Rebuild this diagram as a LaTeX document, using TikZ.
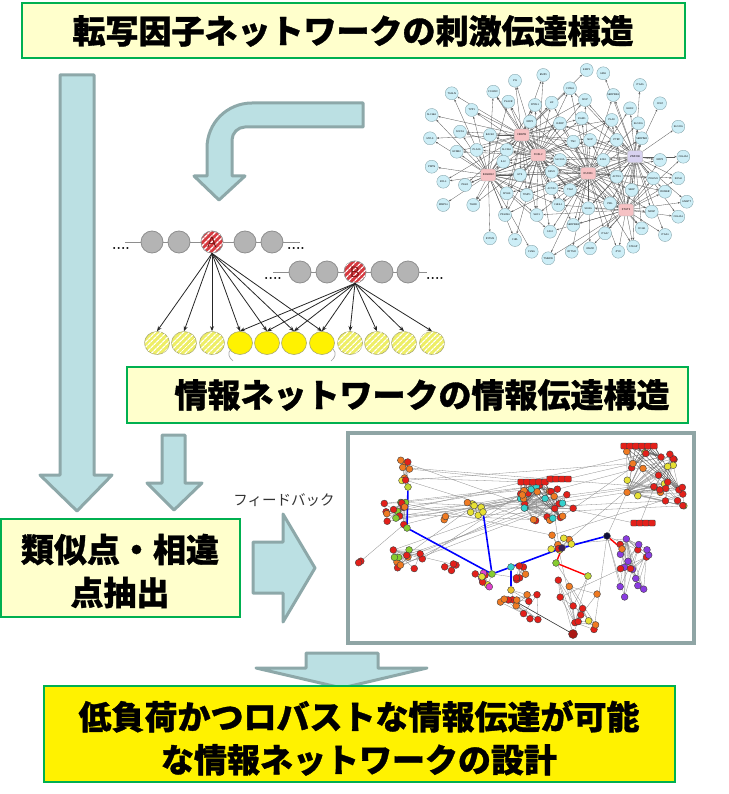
\documentclass[tikz,border=0pt]{standalone}
\usepackage{fontspec}
\newfontfamily\jpfont{Noto Sans CJK JP}[BoldFeatures={FakeBold=1}]
\usetikzlibrary{arrows.meta,shapes.geometric,patterns.meta}
\pgfdeclarelayer{bg}
\pgfsetlayers{bg,main}
\definecolor{arrfill}{HTML}{BBE0E3}
\definecolor{arrline}{HTML}{8DA8A9}
\definecolor{boxgreen}{HTML}{00B050}
\definecolor{paleyel}{HTML}{FFFFCC}
\definecolor{nodeblue}{HTML}{CDEEF7}
\definecolor{nodeedge}{HTML}{7F9FA6}
\definecolor{hubpink}{HTML}{F6C2C4}
\definecolor{hublav}{HTML}{D8D2F0}
\definecolor{chaingray}{HTML}{B4B4B4}
\definecolor{chainedge}{HTML}{8E8E8E}
\definecolor{tfred}{HTML}{D6393F}
\definecolor{tfdark}{HTML}{7A1010}
\definecolor{ysolid}{HTML}{FFF200}
\definecolor{yhatchc}{HTML}{EEEE66}
\definecolor{yedge}{HTML}{A8A870}
\definecolor{framec}{HTML}{8FA5A5}
\definecolor{sred}{HTML}{E3201A}
\definecolor{sorange}{HTML}{EF7A22}
\definecolor{syellow}{HTML}{E6E034}
\definecolor{sgreen}{HTML}{86CC30}
\definecolor{spurple}{HTML}{8A3CE0}
\definecolor{scyan}{HTML}{34D0CC}
\definecolor{smag}{HTML}{E042CC}
\definecolor{sdarkp}{HTML}{3A2058}
\definecolor{snavy}{HTML}{10103A}
\newcommand{\netcluster}[9]{%
  \foreach \i in {1,...,#6}{%
    \pgfmathsetmacro\px{#2+#4*rand}%
    \pgfmathsetmacro\py{#3+#5*rand}%
    \pgfmathrandominteger{\k}{1}{5}%
    \ifnum\k<4 \def\cc{#7}\else\ifnum\k=4 \def\cc{#8}\else\def\cc{#9}\fi\fi
    \node[snode, fill=\cc] (#1-\i) at (\px,\py) {};
  }%
  \begin{pgfonlayer}{bg}
    \foreach \i in {2,...,#6}{\draw[sedge] (#1-1) -- (#1-\i);}
    \ifnum#6>2
    \foreach \i in {3,...,#6}{\pgfmathtruncatemacro\j{\i-1}\draw[sedge] (#1-\j) -- (#1-\i);}
    \fi
  \end{pgfonlayer}
}
\def\genelist{g1/586.7/70/EMP1, g2/603.3/73.3/HRH, g3/543.3/75/EMP3, g4/515/80.7/PI3,
 g5/570/88.3/CYR61, g6/640/85/ITGA5, g7/451.7/93.3/TAGLN, g8/493.3/91.7/FCGR2C,
 g9/613.3/95/SERPINE1, g10/585/100/MVP, g11/471.7/110/TPP1, g12/508.3/101.7/PLAUR,
 g13/535/105/FPRL1, g14/551.7/102.7/LIF, g15/630/108.3/EHD2, g16/660/103.3/CD97,
 g17/431.7/115/SLC38A, g18/530/121.7/NRP1, g19/560/123.3/IGFBP, g20/581.7/118.3/ICAM1,
 g21/611.7/120/PLAU, g22/638.3/123.3/SLC20A, g23/678.3/126.7/SLC22A, g24/430/138.3/MYL9,
 g25/460/131.7/SOCS3, g26/490/135/BACE2, g27/641.7/138.3/SERPINB, g28/456.7/151.7/EFNB2,
 g29/476.7/150/PLA2G, g30/506.7/150/SLC25A, g31/573.3/141.7/TNC, g32/590/140/NUP,
 g33/616.7/140/PTRF, g34/560/160/SLC19A, g35/603.3/160/ECE1, g36/660/160/NRP2,
 g37/683.3/156.7/COL4A2, g38/431.7/166.7/PDPN, g39/503.3/161.7/IL32, g40/520/175/ETS,
 g41/551.7/171.7/ESM1, g42/616.7/176.7/ACTN1, g43/653.3/178.3/PDLIM1, g44/443.3/181.7/BCL3,
 g45/465/185/PELO, g46/678.3/178.3/SOSH, g47/506.7/193.3/MYH9, g48/526.7/195/TIMP1,
 g49/551.7/188.3/ACTA2, g50/570/190/TAM, g51/631.7/190/SSBP, g52/665/191.7/ROMER,
 g53/443.3/205/MMP14, g54/473.3/205/THBD, g55/558.3/205/CHI3L1, g56/610/203.3/PML,
 g57/588.3/208.3/S100A, g58/686.7/201.7/ANGPT, g59/505/215/PDLIM4, g60/536.7/215/SHC1,
 g61/573.3/225/SERPINE2, g62/651.7/211.7/NRGP, g63/678.3/216.7/COL4A1, g64/550/231.7/CA12,
 g65/605/233.3/ITGA7, g66/641.7/228.3/CD151, g67/665/235/ITGA3, g68/490/238.3/IFITM3,
 g69/515/240/C1RL, g70/590/248.3/OSMR, g71/618.3/251.7/ZYX, g72/633.3/246.7/STEAP,
 g73/531.7/251.7/FLNA, g74/548.3/258.3/TMEPAI, g75/571.7/251.7/IFITM2}
\begin{document}
\begin{tikzpicture}[x=1pt,y=-1pt,
  arrowshape/.style={fill=arrfill, draw=arrline, line width=3pt, line join=round},
  textbox/.style={draw=boxgreen, line width=2pt, fill=paleyel},
  bigtext/.style={font=\jpfont\bfseries\fontsize{33}{43}\selectfont, align=center, inner sep=0pt},
  gnode/.style={circle, draw=nodeedge, line width=0.35pt, fill=nodeblue, minimum size=13pt, inner sep=0pt, font=\sffamily\fontsize{2.5}{3}\selectfont},
  hub/.style={rectangle, rounded corners=2pt, draw=gray!70, line width=0.35pt, fill=hubpink, minimum width=15pt, minimum height=12pt, inner sep=0pt, font=\sffamily\fontsize{2.7}{3}\selectfont},
  gedge/.style={draw=black!65, line width=0.32pt, -{Stealth[length=2.4pt,width=1.8pt]}},
  chaincirc/.style={circle, fill=chaingray, draw=chainedge, line width=0.8pt, minimum size=22pt, inner sep=0pt},
  tfnode/.style={chaincirc, fill=tfred, postaction={pattern={Lines[angle=45,distance=4pt,line width=1.4pt]}, pattern color=white}, font=\sffamily\fontsize{15}{15}\selectfont, text=tfdark},
  ynode/.style={ellipse, draw=yedge, line width=0.6pt, fill=ysolid, minimum width=25pt, minimum height=23pt, inner sep=0pt},
  yhatch/.style={ynode, fill=yhatchc, postaction={pattern={Lines[angle=45,distance=4pt,line width=1.3pt]}, pattern color=white}},
  carrow/.style={draw=black!85, line width=0.8pt, -{Stealth[length=5pt,width=4pt]}},
  dots/.style={font=\bfseries\fontsize{14}{14}\selectfont, inner sep=0pt},
  snode/.style={circle, draw=black!75, line width=0.4pt, minimum size=6.8pt, inner sep=0pt},
  srect/.style={rectangle, rounded corners=1pt, draw=black!75, line width=0.4pt, fill=sred, minimum width=6.5pt, minimum height=6pt, inner sep=0pt},
  sedge/.style={draw=black!45, line width=0.3pt},
  blueline/.style={draw=blue, line width=1.6pt},
  redline/.style={draw=red, line width=1.4pt}]
\useasboundingbox (0,0) rectangle (728,794);

% ---------- arrows ----------
\draw[arrowshape] (60,75) -- (94,75) -- (94,475) -- (112,475) -- (77,511) -- (40,475) -- (60,475) -- cycle;
\draw[arrowshape] (363,103) -- (252,103) .. controls (227,103) and (207,123) .. (207,148)
   -- (207,176) -- (194,176) -- (219,200) -- (245,176) -- (232,176) -- (232,140)
   .. controls (232,133) and (238,127) .. (245,127) -- (363,127) -- cycle;
\draw[arrowshape] (162,435) -- (185,435) -- (185,483) -- (202,483) -- (174,510) -- (147,483) -- (162,483) -- cycle;
\draw[arrowshape] (253,542) -- (283,542) -- (283,514) -- (315,568) -- (283,622) -- (283,593) -- (253,593) -- cycle;
\draw[arrowshape] (306,653) -- (378,653) -- (378,668) -- (427,668) -- (342,688) -- (256,668) -- (306,668) -- cycle;

% ---------- text boxes ----------
\draw[textbox] (22,3) rectangle (685,58);
\node[bigtext] (title) at (353,31) {転写因子ネットワークの刺激伝達構造};
\draw[textbox] (127,367) rectangle (688,423);
\node[bigtext] (info) at (422,395) {情報ネットワークの情報伝達構造};
\draw[textbox] (1,519) rectangle (240,617);
\node[bigtext] (simil) at (120,571) {類似点・相違\\点抽出};
\draw[textbox, fill=yellow] (44,686) rectangle (675,782);
\node[bigtext] (design) at (359,738) {低負荷かつロバストな情報伝達が可能\\な情報ネットワークの設計};
\node[font=\jpfont\fontsize{14.5}{15}\selectfont, text=black!80, inner sep=0pt] (fb) at (284,500) {フィードバック};

% ---------- transcription factor network ----------
\foreach \nm/\x/\y/\lab in \genelist {\node[gnode] (\nm) at (\x,\y) {\lab};}
\node[hub] (hC) at (521.7,135) {CEBPB};
\node[hub] (hF) at (538.3,155) {FOSL2};
\node[hub] (hB) at (488.3,175) {BHLHB2};
\node[hub] (hR) at (588.3,173.3) {RUNX1};
\node[hub, fill=hublav] (hZ) at (635,156.7) {ZNF238};
\node[hub] (hS) at (626,210) {STAT3};
\begin{pgfonlayer}{bg}
\foreach \h/\hx/\hy in {hC/521.7/135, hF/538.3/155, hB/488.3/175, hR/588.3/173.3, hZ/635/156.7, hS/626/210}{
  \foreach \nm/\x/\y/\lab in \genelist {
    \pgfmathtruncatemacro\dd{veclen(\x-\hx,\y-\hy)}
    \ifnum\dd<95 \draw[gedge] (\h) -- (\nm);\fi
  }
}
\foreach \a/\b in {hC/hF, hF/hR, hB/hF, hR/hZ, hR/hS, hZ/hS, hC/hR, hB/hR}{\draw[gedge] (\a) -- (\b);}
\end{pgfonlayer}

% ---------- chain diagram ----------
\coordinate (ta) at (125,242); \coordinate (tb) at (300,242);
\coordinate (sa) at (273,272); \coordinate (sb) at (427,272);
\draw[chainedge, line width=1pt] (ta) -- (tb);
\draw[chainedge, line width=1pt] (sa) -- (sb);
\foreach \nm/\x in {c1/152, c2/179, c4/245, c5/272}{\node[chaincirc] (\nm) at (\x,242) {};}
\node[tfnode] (A) at (212,242) {A};
\foreach \nm/\x in {d1/300, d2/327, d4/382, d5/408}{\node[chaincirc] (\nm) at (\x,272) {};}
\node[tfnode] (B) at (355,272) {B};
\node[dots] (dl1) at (121,248) {....};
\node[dots] (dr1) at (296,248) {....};
\node[dots] (dl2) at (273,278) {....};
\node[dots] (dr2) at (435,278) {....};
\foreach \k/\x in {1/157, 2/184, 3/212, 8/350, 9/377, 10/404, 11/432}{\node[yhatch] (y\k) at (\x,343) {};}
\foreach \k/\x in {4/240, 5/267, 6/294, 7/322}{\node[ynode] (y\k) at (\x,343) {};}
\foreach \k in {1,...,7}{\draw[carrow] (A.south) -- (y\k.north);}
\foreach \k in {4,...,11}{\draw[carrow] (B.south) -- (y\k.north);}
\draw[gray!70, line width=0.7pt] (231,349) .. controls (227,353) and (229,358) .. (233,361);
\draw[gray!70, line width=0.7pt] (333,349) .. controls (337,353) and (335,358) .. (331,361);

% ---------- information network screenshot ----------
\begin{pgfonlayer}{bg}
\draw[draw=framec, line width=4pt, fill=white] (348,433) rectangle (694,643);
\end{pgfonlayer}
\pgfmathsetseed{42}
\netcluster{TLc}{404}{470}{7}{12}{8}{sorange}{syellow}{sred}
\netcluster{L}{396}{515}{16}{14}{14}{sred}{sorange}{sgreen}
\netcluster{FL}{361}{563}{3}{3}{2}{sred}{sred}{sred}
\netcluster{LL}{408}{563}{16}{14}{12}{sred}{sorange}{sgreen}
\netcluster{MA}{450}{567}{6}{4}{4}{sred}{sorange}{sred}
\netcluster{TM}{476}{509}{10}{7}{6}{syellow}{sred}{sorange}
\netcluster{ML}{441}{518}{5}{2}{2}{sorange}{sred}{sred}
\netcluster{C}{548}{503}{28}{18}{30}{sred}{scyan}{sorange}
\netcluster{P}{482}{580}{10}{7}{8}{smag}{sred}{syellow}
\netcluster{O}{522}{572}{7}{9}{6}{sred}{sorange}{sred}
\netcluster{B}{513}{608}{25}{14}{12}{sred}{sorange}{sred}
\netcluster{BR}{578}{604}{22}{26}{12}{sred}{sorange}{syellow}
\netcluster{TR}{655}{478}{32}{28}{30}{sred}{sorange}{syellow}
\netcluster{PR}{637}{565}{17}{32}{18}{spurple}{sred}{sred}
\netcluster{MR}{562}{543}{14}{8}{8}{sorange}{syellow}{sred}
\foreach \i/\x in {1/624,2/630,3/636,4/642,5/648,6/654}{\node[srect] (RA-\i) at (\x,446) {};}
\foreach \i/\x in {1/521,2/527,3/533,4/539,5/545}{\node[srect] (RB-\i) at (\x,482) {};}
\foreach \i/\x in {1/550,2/556,3/562,4/568}{\node[srect] (RC-\i) at (\x,479) {};}
\foreach \i/\x in {1/634,2/640,3/646,4/652}{\node[srect] (RD-\i) at (\x,523) {};}
\node[snode, fill=sred!75!black, minimum size=9pt] (bot) at (573,634) {};
\node[snode, fill=syellow!60!sgreen] (b1) at (408,487) {};
\node[snode, fill=sgreen] (b2) at (407,528) {};
\node[snode, fill=syellow] (b3) at (483,512) {};
\node[snode, fill=sgreen] (b4) at (492,574) {};
\node[snode, fill=scyan] (b5) at (511,567) {};
\node[snode, fill=syellow!70!sorange] (b6) at (511,590) {};
\node[snode, fill=sdarkp] (b7) at (562,548) {};
\node[snode, fill=snavy] (b8) at (607,536) {};
\node[snode, fill=sgreen] (r1) at (556,563) {};
\node[snode, fill=syellow!60!sgreen] (r2) at (588,576) {};
\node[snode, fill=sorange] (r3) at (622,549) {};
\begin{pgfonlayer}{bg}
\foreach \a/\b in {L-1/C-1, L-2/C-3, L-3/C-5, L-4/C-12, L-5/TR-4, L-6/C-7, L-7/TM-1, L-8/MR-2,
  TLc-1/C-2, TLc-2/RB-2, TLc-3/TR-6, TLc-4/RB-4, LL-1/C-4, LL-2/C-6, LL-3/TM-2, LL-4/C-9, LL-5/MR-1,
  TM-1/C-8, TM-2/C-9, TM-3/TR-8, ML-1/C-10, C-1/TR-1, C-2/TR-3, C-3/TR-5, C-4/TR-9, C-10/MR-1,
  C-11/RD-1, MR-2/TR-7, MR-3/PR-1, MR-4/BR-1, b8/TR-2, b8/PR-2, b8/PR-3, b8/PR-4, b8/BR-2,
  b5/B-1, b6/B-2, b6/B-3, b4/P-1, b4/O-1, r1/BR-3, r2/BR-1, r2/BR-4, b7/MR-1, b3/TM-3, b1/TLc-1,
  b2/L-1, b2/L-2, FL-1/L-3, MA-1/LL-1, b3/C-11, TR-10/RA-1, TR-11/RD-2, PR-5/BR-5, BR-6/bot,
  BR-7/bot, L-9/C-13, L-10/C-14, LL-6/C-15, TLc-5/C-16, ML-2/C-17, TM-4/TR-12, C-18/TR-13, MR-5/TR-14,
  L-11/C-19, L-12/C-20, LL-7/C-21, TLc-6/TR-15, L-13/TR-16, LL-8/C-22}
  {\draw[sedge] (\a) -- (\b);}
\foreach \i in {1,...,5}{\foreach \j in {2,4,6,8}{\draw[draw=black!70, line width=0.35pt] (RB-\i) -- (C-\j);}}
\foreach \i in {1,...,6}{\foreach \j in {3,5,7}{\draw[draw=black!70, line width=0.35pt] (RA-\i) -- (TR-\j);}}
\draw[draw=black!80, line width=0.6pt] (B-1) -- (bot);
\draw[blueline] (b1) -- (b2);
\draw[blueline] (b2) -- (b4);
\draw[blueline] (b3) -- (b4);
\draw[blueline] (b4) -- (b5);
\draw[blueline] (b5) -- (b6);
\draw[blueline] (b5) -- (b7);
\draw[blueline] (b7) -- (b8);
\draw[redline] (b7) -- (r1);
\draw[redline] (r1) -- (r2);
\draw[redline] (b8) -- (r3);
\end{pgfonlayer}
\end{tikzpicture}
\end{document}
